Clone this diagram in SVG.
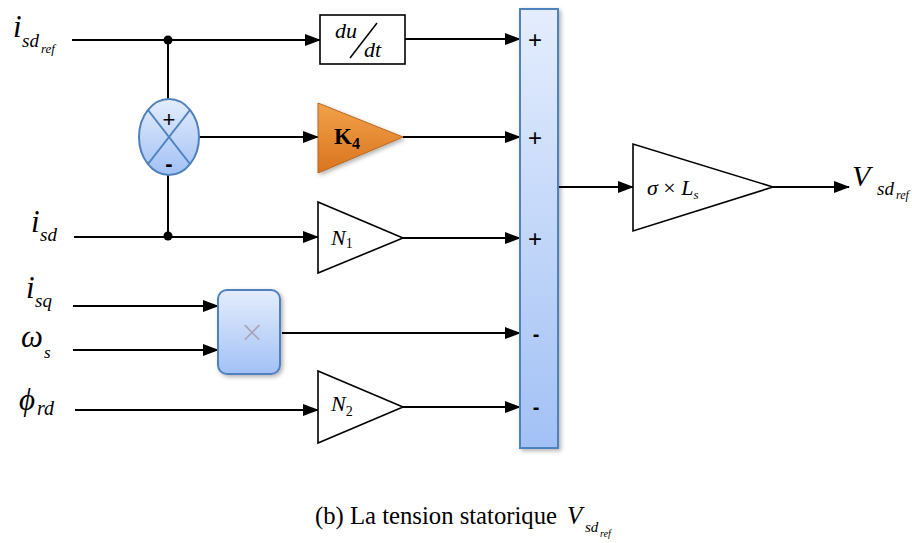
<svg xmlns="http://www.w3.org/2000/svg" width="912" height="543" viewBox="0 0 912 543">
<style>
.w{stroke:#000;stroke-width:2;fill:none}
.blk{stroke:#000;stroke-width:1.6;fill:#fff}
.m{font-family:"Liberation Serif","Times New Roman",serif;font-style:italic;fill:#000}
.s{font-family:"Liberation Sans",Arial,sans-serif;fill:#000}
</style>
<defs>
<marker id="ar" markerUnits="userSpaceOnUse" markerWidth="16" markerHeight="12" refX="15" refY="6" orient="auto">
<path d="M0,0 L16,6 L0,12 z" fill="#000"/>
</marker>
<linearGradient id="gb" x1="0" y1="0" x2="0" y2="1">
<stop offset="0" stop-color="#e4edfd"/>
<stop offset="1" stop-color="#a2c1f5"/>
</linearGradient>
<linearGradient id="go" x1="0" y1="0" x2="0" y2="1">
<stop offset="0" stop-color="#f2a24a"/>
<stop offset="1" stop-color="#d9741f"/>
</linearGradient>
<filter id="sh" x="-20%" y="-20%" width="150%" height="150%">
<feDropShadow dx="2" dy="2" stdDeviation="2" flood-color="#000" flood-opacity="0.3"/>
</filter>
</defs>

<g id="connectors">
<line class="w" x1="72" y1="40" x2="320" y2="40" marker-end="url(#ar)"/>
<line class="w" x1="168" y1="40" x2="168" y2="99"/>
<line class="w" x1="168" y1="175" x2="168" y2="236"/>
<line class="w" x1="74" y1="237" x2="318" y2="237" marker-end="url(#ar)"/>
<line class="w" x1="199" y1="137" x2="318" y2="137" marker-end="url(#ar)"/>
<line class="w" x1="405" y1="39" x2="520" y2="39" marker-end="url(#ar)"/>
<line class="w" x1="403" y1="137" x2="520" y2="137" marker-end="url(#ar)"/>
<line class="w" x1="403" y1="238" x2="520" y2="238" marker-end="url(#ar)"/>
<line class="w" x1="73" y1="306" x2="218" y2="306" marker-end="url(#ar)"/>
<line class="w" x1="73" y1="350" x2="218" y2="350" marker-end="url(#ar)"/>
<line class="w" x1="282" y1="333" x2="520" y2="333" marker-end="url(#ar)"/>
<line class="w" x1="75" y1="410" x2="318" y2="410" marker-end="url(#ar)"/>
<line class="w" x1="403" y1="407" x2="520" y2="407" marker-end="url(#ar)"/>
<line class="w" x1="558" y1="187" x2="633" y2="187" marker-end="url(#ar)"/>
<line class="w" x1="773" y1="187" x2="849" y2="187" marker-end="url(#ar)"/>
<circle cx="168" cy="40" r="4.5" fill="#000"/>
<circle cx="168" cy="236" r="4.5" fill="#000"/>
</g>

<g id="labels">
<text class="m" x="13" y="37" font-size="31">i</text>
<text class="m" x="22" y="47" font-size="19">sd</text>
<text class="m" x="41" y="53" font-size="13">ref</text>
<text class="m" x="31" y="232" font-size="31">i</text>
<text class="m" x="40" y="241" font-size="19">sd</text>
<text class="m" x="26" y="298" font-size="31">i</text>
<text class="m" x="35" y="307" font-size="19">sq</text>
<text class="m" x="21" y="347" font-size="31">ω</text>
<text class="m" x="44" y="358" font-size="17">s</text>
<text class="m" x="19" y="410" font-size="31">ϕ</text>
<text class="m" x="37" y="415" font-size="20">rd</text>
<text class="m" x="852" y="186" font-size="30">V</text>
<text class="m" x="877" y="195" font-size="19">sd</text>
<text class="m" x="896" y="199" font-size="12">ref</text>
</g>

<g id="sum1">
<ellipse cx="169" cy="137" rx="30" ry="38" fill="url(#gb)" stroke="#4f81bd" stroke-width="2"/>
<line x1="148" y1="110" x2="190" y2="164" stroke="#4f81bd" stroke-width="2"/>
<line x1="190" y1="110" x2="148" y2="164" stroke="#4f81bd" stroke-width="2"/>
<text class="s" x="169" y="127" font-size="22" text-anchor="middle">+</text>
<text class="s" x="169" y="171" font-size="22" font-weight="bold" text-anchor="middle">-</text>
</g>

<g id="deriv">
<rect class="blk" x="320" y="15" width="85" height="49"/>
<text class="m" x="335" y="38" font-size="22">du</text>
<line x1="350" y1="58" x2="377" y2="23" stroke="#000" stroke-width="1.5"/>
<text class="m" x="364" y="57" font-size="22">dt</text>
</g>

<g id="k4">
<polygon points="318,103 318,173 403,137" fill="url(#go)" stroke="#b8661e" stroke-width="1" filter="url(#sh)"/>
<text x="334" y="144" font-family="Liberation Serif,'Times New Roman',serif" font-weight="bold" font-size="23">K<tspan font-size="16" dy="5">4</tspan></text>
</g>

<g id="n1">
<polygon class="blk" points="318,202 318,273 403,238"/>
<text class="m" x="331" y="245" font-size="22">N<tspan font-style="normal" font-size="14" dy="3">1</tspan></text>
</g>

<g id="mult">
<rect x="218" y="290" width="62" height="84" rx="9" fill="url(#gb)" stroke="#4f81bd" stroke-width="2" filter="url(#sh)"/>
<text x="252" y="342" font-family="'DejaVu Sans',sans-serif" font-weight="200" font-size="30" fill="#a8a2b4" text-anchor="middle">×</text>
</g>

<g id="n2">
<polygon class="blk" points="318,371 318,443 403,407"/>
<text class="m" x="331" y="411" font-size="22">N<tspan font-style="normal" font-size="14" dy="5">2</tspan></text>
</g>

<g id="sum2">
<rect x="520" y="9" width="38" height="439" fill="url(#gb)" stroke="#4f81bd" stroke-width="2" filter="url(#sh)"/>
<text class="s" x="535" y="48" font-size="24" text-anchor="middle">+</text>
<text class="s" x="535" y="146" font-size="24" text-anchor="middle">+</text>
<text class="s" x="535" y="247" font-size="24" text-anchor="middle">+</text>
<text class="s" x="536" y="341" font-size="20" font-weight="bold" text-anchor="middle">-</text>
<text class="s" x="536" y="414" font-size="20" font-weight="bold" text-anchor="middle">-</text>
</g>

<g id="gain">
<polygon class="blk" points="633,144 633,231 773,187"/>
<text x="647" y="195" font-family="Liberation Serif,'Times New Roman',serif" font-size="22"><tspan font-style="italic">σ</tspan> × <tspan font-style="italic">L</tspan><tspan font-style="italic" font-size="13" dy="4">s</tspan></text>
</g>

<g id="caption">
<text x="315" y="524" font-family="Liberation Serif,'Times New Roman',serif" font-size="24.5" textLength="242" lengthAdjust="spacingAndGlyphs">(b) La tension statorique</text>
<text class="m" x="567" y="524" font-size="25">V</text>
<text class="m" x="585" y="532" font-size="15">sd</text>
<text class="m" x="600" y="537" font-size="10">ref</text>
</g>
</svg>
